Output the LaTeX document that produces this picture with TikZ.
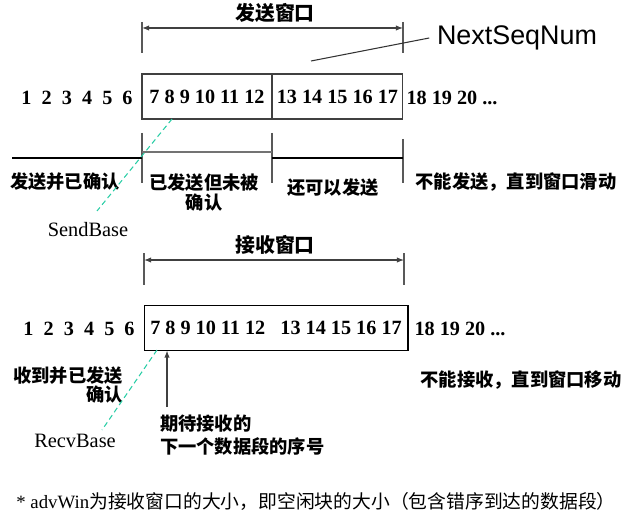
\documentclass[tikz,border=0pt]{standalone}
\usepackage{fontspec}
\setmainfont{Liberation Serif}
\setsansfont{Liberation Sans}
\newfontfamily\cjk{Noto Sans CJK SC}
\usepackage{xcolor}
\usetikzlibrary{arrows.meta,positioning,calc}
\definecolor{basecyan}{RGB}{40,205,165}
\newcommand{\seqfont}{\bfseries\fontsize{11.5}{13}\selectfont}
\newcommand{\gap}{\enspace}

\begin{document}
\begin{tikzpicture}[x=0.02cm,y=-0.02cm,
  every node/.style={inner sep=0pt,outer sep=0pt},
  lbl/.style={font=\cjk\bfseries\fontsize{10.4}{11}\selectfont,align=center},
  ttl/.style={font=\cjk\bfseries\fontsize{11.3}{13}\selectfont},
  seq/.style={font=\seqfont},
  win/.style={draw=black!75,line width=0.6pt,minimum height=0.9cm,font=\seqfont},
  tick/.style={draw=black!65,line width=0.6pt},
  span/.style={{Latex[length=4pt,width=3pt]}-{Latex[length=4pt,width=3pt]},draw=black!75,line width=0.6pt},
  base/.style={densely dashed,draw=basecyan,line width=0.6pt},
  ptr/.style={-{Latex[length=4pt,width=3pt]},draw=black!75,line width=0.6pt}
]
\useasboundingbox (0,0) rectangle (639,517);

\node[ttl] (sendtitle) at (275,13) {发送窗口};
\coordinate (sLtop) at (142,22); \coordinate (sLbot) at (142,53);
\coordinate (sRtop) at (403,22); \coordinate (sRbot) at (403,53);
\draw[tick] (sLtop) -- (sLbot);
\draw[tick] (sRtop) -- (sRbot);
\draw[span] ($(sLtop)+(0,6)$) -- ($(sRtop)+(0,6)$);
\node[font=\sffamily\fontsize{15.3}{17}\selectfont,inner xsep=4.5pt] (nextseq) at (517,38) {NextSeqNum};
\coordinate (nsfoot) at (311,61);
\draw[draw=black!80,line width=0.6pt] (nsfoot) -- (nextseq.west);

\node[seq] (sendlow) at (77,98) {1\gap 2\gap 3\gap 4\gap 5\gap 6};
\node[win,minimum width=2.6cm] (sentbox) at (207,96.5) {7 8 9 10 11 12};
\node[win,minimum width=2.62cm,right=0pt of sentbox] (freebox) {13 14 15 16 17};
\node[seq] (sendhigh) at (452,98) {18 19 20 ...};

\coordinate (bA) at (142,133); \coordinate (bB) at (272,133);
\coordinate (bC) at (403,139);
\draw[tick] (bA) -- (bA |- 0,183);
\draw[tick] (bB) -- (bB |- 0,183);
\draw[tick] (bC) -- (bC |- 0,183);
\draw[line width=0.6pt] (12,158) -- (bA |- 0,158);
\draw[tick,draw=black!55] (bA |- 0,152) -- (bB |- 0,152);
\draw[line width=0.6pt] (bB |- 0,158) -- (bC |- 0,158);

\node[lbl] (acked) at (65,182) {发送并已确认};
\node[lbl] (unacked) at (204,192.5) {已发送但未被\\确认};
\node[lbl] (usable) at (333,188) {还可以发送};
\node[lbl] (nosend) at (516,182) {不能发送，直到窗口滑动};

\node[font=\fontsize{11.6}{13}\selectfont] (sendbase) at (88,230) {SendBase};
\coordinate (sbtop) at (172,119); \coordinate (sbfoot) at (97,211);
\draw[base] (sbtop) -- (sbfoot);

\node[ttl] (recvtitle) at (275,245) {接收窗口};
\coordinate (rLtop) at (144,253); \coordinate (rLbot) at (144,285);
\coordinate (rRtop) at (404,253); \coordinate (rRbot) at (404,285);
\draw[tick] (rLtop) -- (rLbot);
\draw[tick] (rRtop) -- (rRbot);
\draw[span] ($(rLtop)+(0,7)$) -- ($(rRtop)+(0,7)$);

\node[seq] (recvlow) at (79,329) {1\gap 2\gap 3\gap 4\gap 5\gap 6};
\node[win,draw=black,minimum width=5.28cm] (recvbox) at (276,328) {7 8 9 10 11 12\hspace{0.75em}13 14 15 16 17};
\node[seq] (recvhigh) at (460,329) {18 19 20 ...};

\node[lbl,align=right,anchor=east,font=\cjk\bfseries\fontsize{10.4}{11.3}\selectfont] (recvd) at (123,385) {收到并已发送\\确认};
\node[lbl] (norecv) at (521,380) {不能接收，直到窗口移动};

\node[font=\fontsize{11.6}{13}\selectfont] (recvbase) at (75,441) {RecvBase};
\coordinate (rbtop) at (157,350); \coordinate (rbfoot) at (102,430);
\draw[base] (rbtop) -- (rbfoot);

\coordinate (expfoot) at (167,407);
\draw[ptr] (expfoot) -- (expfoot |- recvbox.south);
\node[lbl,align=left,anchor=north west,font=\cjk\bfseries\fontsize{10.4}{13}\selectfont] (expected) at (160,415) {期待接收的\\下一个数据段的序号};

\node[font=\fontsize{10.7}{13}\selectfont] (advwin) at (316,501) {* advWin{\cjk 为接收窗口的大小，即空闲块的大小（包含错序到达的数据段）}};
\end{tikzpicture}
\end{document}
